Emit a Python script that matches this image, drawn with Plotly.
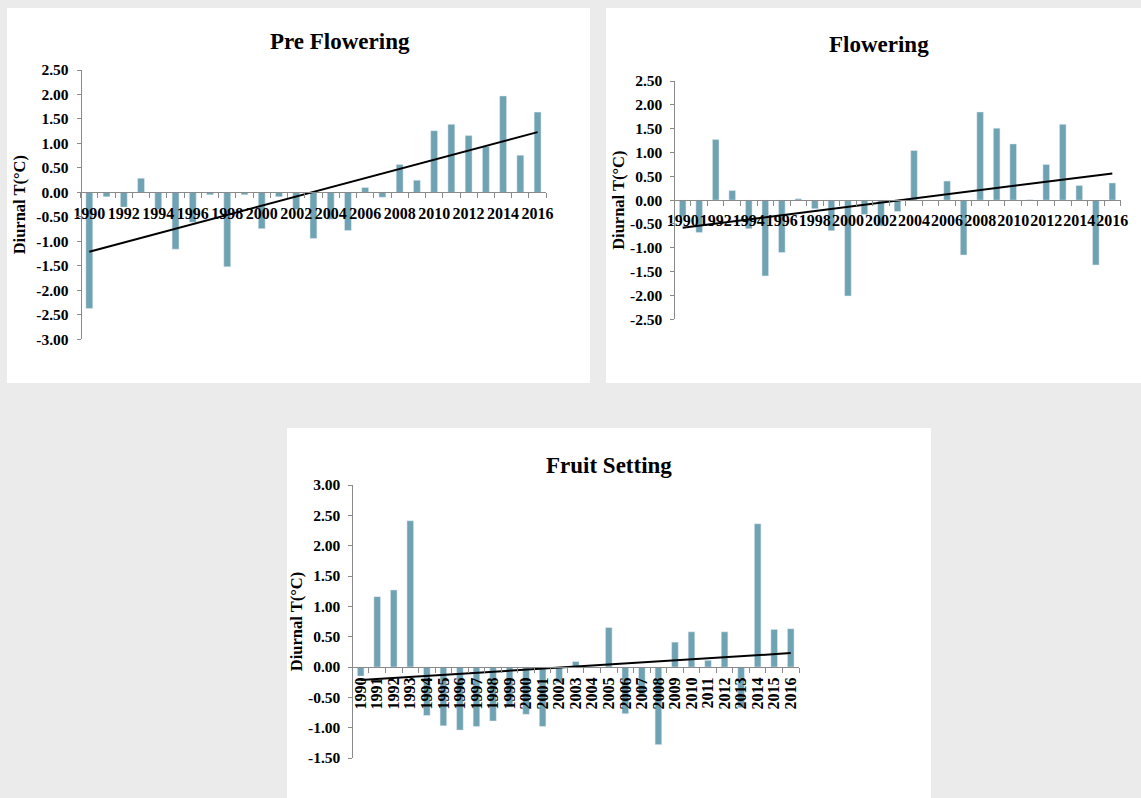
import numpy as np
import plotly.graph_objects as go

years = list(range(1990, 2017))

pre_flowering = [-2.37, -0.09, -0.30, 0.29, -0.35, -1.16, -0.61, -0.05, -1.52, -0.05,
                 -0.74, -0.09, -0.35, -0.94, -0.55, -0.78, 0.10, -0.10, 0.57, 0.25,
                 1.26, 1.39, 1.16, 0.94, 1.97, 0.76, 1.64]
flowering = [-0.35, -0.68, 1.27, 0.20, -0.60, -1.59, -1.10, 0.03, -0.18, -0.64,
             -2.01, -0.30, -0.54, -0.24, 1.04, 0.00, 0.40, -1.15, 1.85, 1.51,
             1.18, 0.01, 0.75, 1.59, 0.31, -1.36, 0.36]
fruit_setting = [-0.15, 1.16, 1.27, 2.41, -0.80, -0.97, -1.04, -0.98, -0.89, -0.66,
                 -0.78, -0.98, -0.26, 0.09, 0.00, 0.65, -0.77, -0.45, -1.28, 0.41,
                 0.58, 0.11, 0.58, -0.67, 2.36, 0.62, 0.63]

titles = ["Pre Flowering", "Flowering", "Fruit Setting"]
y_ticks_pre = [2.5, 2.0, 1.5, 1.0, 0.5, 0.0, -0.5, -1.0, -1.5, -2.0, -2.5, -3.0]
y_ticks_flo = [2.5, 2.0, 1.5, 1.0, 0.5, 0.0, -0.5, -1.0, -1.5, -2.0, -2.5]
y_ticks_fru = [3.0, 2.5, 2.0, 1.5, 1.0, 0.5, 0.0, -0.5, -1.0, -1.5]
y_title = "Diurnal T(°C)"

W, H = 1141, 798
BAR = "#6fa2b2"
AX = "#8a8a8a"
FONT = "Liberation Serif"

def px_x(v):
    return v / W

def px_y(v):
    return 1 - v / H

panels = [
    dict(data=pre_flowering, yt=y_ticks_pre, rng=[-3.0, 2.5],
         xd=[px_x(80.7), px_x(546.2)], yd=[px_y(339.3), px_y(70)],
         box=[7, 8, 590, 383], title_xy=(340, 42), xstep=2, angle=0, xso=6, yso=5),
    dict(data=flowering, yt=y_ticks_flo, rng=[-2.5, 2.5],
         xd=[px_x(674.4), px_x(1120.6)], yd=[px_y(319.3), px_y(81)],
         box=[606, 8, 1141, 383], title_xy=(879, 45), xstep=2, angle=0, xso=6, yso=0),
    dict(data=fruit_setting, yt=y_ticks_fru, rng=[-1.5, 3.0],
         xd=[px_x(352.4), px_x(799.0)], yd=[px_y(758), px_y(485)],
         box=[287, 428, 931, 798], title_xy=(609, 465), xstep=1, angle=-90, xso=3, yso=0),
]

fig = go.Figure()
shapes = []
annotations = []
layout = {}

for i, p in enumerate(panels):
    n = "" if i == 0 else str(i + 1)
    xa, ya = "x" + n, "y" + n
    vals = p["data"]
    fig.add_trace(go.Bar(x=years, y=vals, marker_color=BAR, width=0.4,
                         xaxis=xa, yaxis=ya, showlegend=False))
    slope, icpt = np.polyfit(years, vals, 1)
    ends = [years[0], years[-1]]
    fig.add_trace(go.Scatter(x=ends, y=[slope * e + icpt for e in ends], mode="lines",
                             line=dict(color="black", width=2),
                             xaxis=xa, yaxis=ya, showlegend=False))
    ymin, ymax = p["rng"]
    zero_pos = p["yd"][0] + (0 - ymin) / (ymax - ymin) * (p["yd"][1] - p["yd"][0])
    labeled = years[::p["xstep"]]
    layout["xaxis" + n] = dict(
        domain=p["xd"], anchor="free", position=zero_pos, automargin=False,
        range=[1989.5, 2016.5], tickvals=labeled, ticktext=[str(y) for y in labeled],
        ticks="", showgrid=False, zeroline=False, showline=True, linecolor=AX,
        linewidth=1, tickangle=p["angle"], ticklabelstandoff=p["xso"],
        tickfont=dict(family=FONT, size=16, color="black", weight="bold"),
        minor=dict(tickmode="linear", tick0=1989.5, dtick=1, ticks="outside",
                   ticklen=5, tickcolor=AX, showgrid=False),
        layer="above traces",
    )
    layout["yaxis" + n] = dict(
        domain=p["yd"], anchor="free", position=p["xd"][0], range=p["rng"],
        automargin=False, ticklabelstandoff=5,
        tickvals=p["yt"], ticktext=[f"{v:.2f}" for v in p["yt"]], ticks="outside",
        ticklen=4, tickcolor=AX, showline=True, linecolor=AX, linewidth=1,
        showgrid=False, zeroline=False,
        tickfont=dict(family=FONT, size=15.5, color="black", weight="bold"),
        title=dict(text=y_title, standoff=p["yso"],
                   font=dict(family=FONT, size=16.5, color="black", weight="bold")),
    )
    x0, y0, x1, y1 = p["box"]
    shapes.append(dict(type="rect", xref="paper", yref="paper", x0=px_x(x0), x1=px_x(x1),
                       y0=px_y(y1), y1=px_y(y0), fillcolor="white", line=dict(width=0),
                       layer="below"))
    tx, ty = p["title_xy"]
    annotations.append(dict(text=titles[i], xref="paper", yref="paper", x=px_x(tx),
                            y=px_y(ty), xanchor="center", yanchor="middle", showarrow=False,
                            font=dict(family=FONT, size=23, color="black", weight="bold")))

fig.update_layout(
    width=W, height=H, margin=dict(l=0, r=0, t=0, b=0, autoexpand=False),
    paper_bgcolor="#ebebeb", plot_bgcolor="rgba(0,0,0,0)",
    shapes=shapes, annotations=annotations, bargap=0.6,
    **layout,
)

fig.write_html("out.html", config={"displayModeBar": False},
               post_script="document.body.style.margin='0';document.body.style.overflow='hidden';")
